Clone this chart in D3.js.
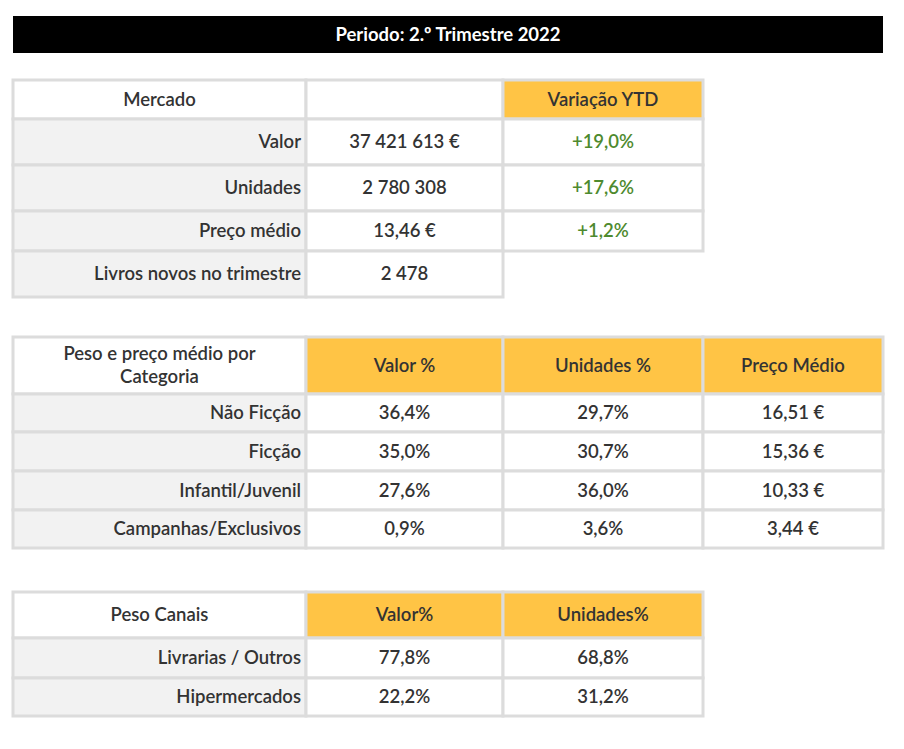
<!DOCTYPE html><html><head><meta charset="utf-8"><script src="https://cdn.jsdelivr.net/npm/d3@7"></script>
<style>body{margin:0;background:#fff}text{font-family:Lato,"Open Sans",sans-serif;font-weight:600;font-size:18.5px;fill:#333}</style></head><body><svg id="c" width="904" height="749"></svg><script>
const title="Periodo: 2.º Trimestre 2022";
const mercadoHeader=["Mercado","","Variação YTD"];
const mercadoLabels=["Valor","Unidades","Preço médio","Livros novos no trimestre"];
const mercadoValues=["37 421 613 €","2 780 308","13,46 €","2 478"];
const mercadoYTD=["+19,0%","+17,6%","+1,2%",null];
const catHeader=["Peso e preço médio por\nCategoria","Valor %","Unidades %","Preço Médio"];
const catLabels=["Não Ficção","Ficção","Infantil/Juvenil","Campanhas/Exclusivos"];
const catValor=["36,4%","35,0%","27,6%","0,9%"];
const catUnid=["29,7%","30,7%","36,0%","3,6%"];
const catPreco=["16,51 €","15,36 €","10,33 €","3,44 €"];
const canHeader=["Peso Canais","Valor%","Unidades%"];
const canLabels=["Livrarias / Outros","Hipermercados"];
const canValor=["77,8%","22,2%"];
const canUnid=["68,8%","31,2%"];

const svg=d3.select("#c");
const colEdges=[13,306,503,703,883];
svg.append("rect").attr("x",13).attr("y",16).attr("width",870).attr("height",37).attr("fill","#000");
svg.append("text").attr("x",448).attr("y",35).attr("dy","0.35em").attr("text-anchor","middle").style("fill","#fff").style("font-weight",700).text(title);

function table(rowsEdges,cells){
  // cells: {r,c,text,fill,color,anchor,border}
  const g=svg.append("g");
  cells.forEach(d=>{
    const x0=colEdges[d.c],x1=colEdges[d.c+1],y0=rowsEdges[d.r],y1=rowsEdges[d.r+1];
    if(d.border!==false) g.append("rect").attr("x",x0).attr("y",y0).attr("width",x1-x0).attr("height",y1-y0)
      .attr("fill",d.fill||"#fff").attr("stroke","#dcdcdc").attr("stroke-width",3);
    if(d.text==null) return;
    const lines=d.text.split("\n");
    const t=g.append("text").attr("text-anchor",d.anchor||"middle")
      .attr("x",d.anchor==="end"?x1-5:(x0+x1)/2).style("fill",d.color||"#333");
    lines.forEach((l,i)=>t.append("tspan").attr("x",d.anchor==="end"?x1-5:(x0+x1)/2)
      .attr("y",(y0+y1)/2+(i-(lines.length-1)/2)*23).attr("dy","0.35em").text(l));
  });
}
const Y="#ffc445", G="#f2f2f2", GR="#4e8a2e";
let c1=[];
mercadoHeader.forEach((h,i)=>c1.push({r:0,c:i,text:h,fill:i===2?Y:"#fff"}));
mercadoLabels.forEach((l,i)=>{
  c1.push({r:i+1,c:0,text:l,fill:G,anchor:"end"});
  c1.push({r:i+1,c:1,text:mercadoValues[i]});
  if(mercadoYTD[i]!=null) c1.push({r:i+1,c:2,text:mercadoYTD[i],color:GR});
});
table([80,119,165,211,251,297],c1);
let c2=[];
catHeader.forEach((h,i)=>c2.push({r:0,c:i,text:h,fill:i===0?"#fff":Y}));
catLabels.forEach((l,i)=>{
  c2.push({r:i+1,c:0,text:l,fill:G,anchor:"end"});
  c2.push({r:i+1,c:1,text:catValor[i]});
  c2.push({r:i+1,c:2,text:catUnid[i]});
  c2.push({r:i+1,c:3,text:catPreco[i]});
});
table([337,394,432,471,510,548],c2);
let c3=[];
canHeader.forEach((h,i)=>c3.push({r:0,c:i,text:h,fill:i===0?"#fff":Y}));
canLabels.forEach((l,i)=>{
  c3.push({r:i+1,c:0,text:l,fill:G,anchor:"end"});
  c3.push({r:i+1,c:1,text:canValor[i]});
  c3.push({r:i+1,c:2,text:canUnid[i]});
});
table([592,638,678,716],c3);
</script></body></html>
